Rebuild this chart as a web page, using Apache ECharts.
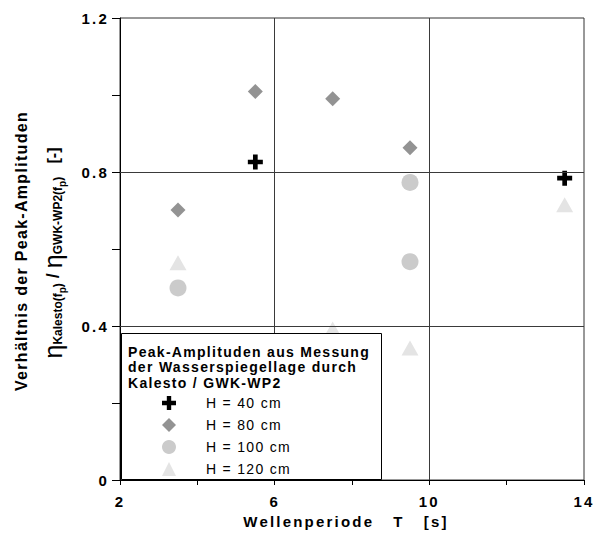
<!DOCTYPE html>
<html>
<head>
<meta charset="utf-8">
<script src="https://cdn.jsdelivr.net/npm/echarts@6/dist/echarts.min.js"></script>
<style>
html,body{margin:0;padding:0;background:#fff;}
#chart{width:610px;height:537px;}
#chart text{letter-spacing:1.3px;}
#chart text[style*="15px"]{letter-spacing:2.2px;}
#chart text[style*="sans-serif"]{letter-spacing:0px;}
</style>
</head>
<body>
<div id="chart"></div>
<script>
// ---- data ----
var seriesNames = ['H = 40 cm', 'H = 80 cm', 'H = 100 cm', 'H = 120 cm'];
var xH40 = [5.5, 13.5];
var yH40 = [0.826, 0.784];
var xH80 = [3.5, 5.5, 7.5, 9.5];
var yH80 = [0.701, 1.009, 0.990, 0.863];
var xH100 = [3.5, 9.5, 9.5];
var yH100 = [0.499, 0.773, 0.567];
var xH120 = [3.5, 7.5, 9.5, 13.5];
var yH120 = [0.564, 0.392, 0.343, 0.715];
var xTickLabels = [2, 6, 10, 14];
var yTickLabels = [0, 0.4, 0.8, 1.2];
var xGridValues = [6, 10];
var yGridValues = [0.4, 0.8];
var legendTitle = ['Peak-Amplituden aus Messung', 'der Wasserspiegellage durch', 'Kalesto / GWK-WP2'];

function pairs(xs, ys) { return xs.map(function (x, i) { return [x, ys[i]]; }); }

var FONT = 'Liberation Sans';
var RICHFONT = 'Liberation Sans, sans-serif';
var crossPath = 'path://M-1,-3.2H1V-1H3.2V1H1V3.2H-1V1H-3.2V-1H-1Z';

var chart = echarts.init(document.getElementById('chart'), null, { renderer: 'svg' });

var gridMarks = xGridValues.map(function (v) { return { xAxis: v }; })
  .concat(yGridValues.map(function (v) { return { yAxis: v }; }));

var option = {
  animation: false,
  textStyle: { fontFamily: FONT },
  grid: { left: 120, right: 26, top: 18, bottom: 57, show: true, borderColor: '#333', borderWidth: 1, backgroundColor: 'transparent' },
  xAxis: {
    type: 'value', min: 2, max: 14, interval: 2,
    name: 'Wellenperiode   T   [s]', nameLocation: 'middle', nameGap: 34,
    nameTextStyle: { fontFamily: FONT, fontWeight: 'bold', fontSize: 15, color: '#000', padding: [0, 12, 0, 0] },
    axisLine: { show: true, lineStyle: { color: '#000', width: 1 } },
    axisTick: { show: true, length: 5, lineStyle: { color: '#000' } },
    splitLine: { show: false },
    axisLabel: {
      margin: 14, fontFamily: FONT, fontWeight: 'bold', fontSize: 15, color: '#000',
      formatter: function (v) { return xTickLabels.indexOf(Math.round(v)) >= 0 ? String(Math.round(v)) : ''; }
    }
  },
  yAxis: {
    type: 'value', min: 0, max: 1.2, interval: 0.2,
    axisLine: { show: true, lineStyle: { color: '#000', width: 1 } },
    axisTick: { show: true, length: 8, lineStyle: { color: '#000' } },
    splitLine: { show: false },
    axisLabel: {
      margin: 11, fontFamily: FONT, fontWeight: 'bold', fontSize: 15, color: '#000',
      formatter: function (v) {
        var r = Math.round(v * 10) / 10;
        for (var i = 0; i < yTickLabels.length; i++) { if (Math.abs(yTickLabels[i] - r) < 1e-6) return String(yTickLabels[i]); }
        return '';
      }
    }
  },
  legend: {
    orient: 'vertical', left: 157, top: 391, z: 10,
    itemWidth: 14, itemHeight: 14, itemGap: 8,
    selectedMode: false,
    data: seriesNames,
    textStyle: { fontFamily: FONT, fontSize: 14, color: '#000', lineHeight: 14, padding: [0, 0, 0, 25] }
  },
  series: [
    {
      name: seriesNames[0], type: 'scatter', symbol: crossPath, symbolSize: 15, z: 4,
      itemStyle: { color: '#000', opacity: 1 }, data: pairs(xH40, yH40),
      markLine: {
        silent: true, symbol: 'none', label: { show: false }, animation: false,
        lineStyle: { color: '#3a3a3a', width: 1, type: 'solid' },
        data: gridMarks
      }
    },
    { name: seriesNames[1], type: 'scatter', symbol: 'diamond', symbolSize: 15, z: 4, itemStyle: { color: '#939393', opacity: 1 }, data: pairs(xH80, yH80) },
    { name: seriesNames[2], type: 'scatter', symbol: 'circle', symbolSize: 17, z: 4, itemStyle: { color: '#cbcbcb', opacity: 1 }, data: pairs(xH100, yH100) },
    { name: seriesNames[3], type: 'scatter', symbol: 'triangle', symbolSize: [17, 15], z: 4, itemStyle: { color: '#e4e4e4', opacity: 1 }, data: pairs(xH120, yH120) }
  ],
  graphic: [
    {
      type: 'rect', z: 8, shape: { x: 121.5, y: 333.5, width: 260, height: 146 },
      style: { fill: '#fff', stroke: '#000', lineWidth: 1 }
    },
    {
      type: 'text', z: 9, x: 128, y: 344,
      style: { text: legendTitle.join('\n'), font: 'bold 14px "Liberation Sans"', fill: '#000', lineHeight: 15.5, textAlign: 'left', textVerticalAlign: 'top' }
    },
    {
      type: 'text', z: 9, x: 21, y: 251, rotation: Math.PI / 2,
      style: { text: 'Verhältnis der Peak-Amplituden', font: 'bold 16px "Liberation Sans"', fill: '#000', textAlign: 'center', textVerticalAlign: 'middle' }
    },
    {
      type: 'text', z: 9, x: 53, y: 253, rotation: Math.PI / 2,
      style: {
        text: '{eta|η}{sub|Kalesto(f}{ss|p}{sub|)}{sl| / }{eta|η}{sub|GWK-WP2(f}{ss|p}{sub|)}{br|   [-]}',
        textAlign: 'center', textVerticalAlign: 'middle', fill: '#000',
        rich: {
          eta: { fontFamily: RICHFONT, fontSize: 25, lineHeight: 25, verticalAlign: 'middle', fill: '#000' },
          sub: { fontFamily: RICHFONT, fontSize: 12, fontWeight: 'bold', lineHeight: 12, verticalAlign: 'bottom', padding: [0, 0, 2, 0], fill: '#000' },
          ss: { fontFamily: RICHFONT, fontSize: 10, fontWeight: 'bold', lineHeight: 10, verticalAlign: 'bottom', padding: [0, 0, -2, 0], fill: '#000' },
          sl: { fontFamily: RICHFONT, fontSize: 18, fontWeight: 'bold', lineHeight: 18, verticalAlign: 'middle', fill: '#000' },
          br: { fontFamily: RICHFONT, fontSize: 16, fontWeight: 'bold', lineHeight: 16, verticalAlign: 'middle', fill: '#000' }
        }
      }
    }
  ]
};
chart.setOption(option);
</script>
</body>
</html>
